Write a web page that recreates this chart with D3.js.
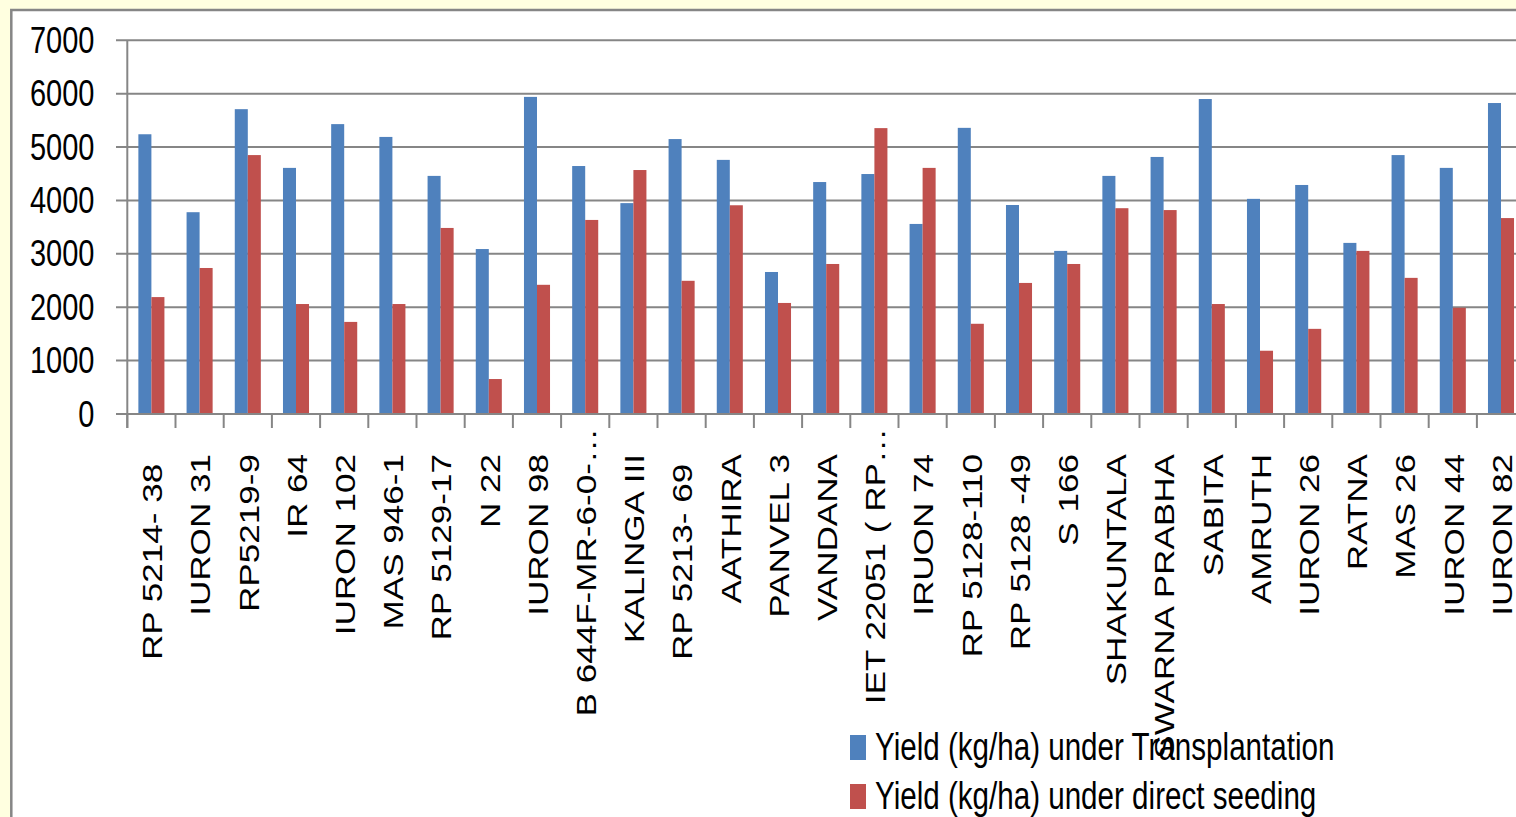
<!DOCTYPE html>
<html>
<head>
<meta charset="utf-8">
<script src="https://cdn.jsdelivr.net/npm/d3@7"></script>
<style>
  html, body { margin: 0; padding: 0; background: #ffffe0; }
  svg { display: block; }
  text { font-family: "Liberation Sans", Arial, sans-serif; fill: #000; }
</style>
</head>
<body>
<svg id="chart" width="1516" height="817"></svg>
<script>
// Rice varieties and their yields (kg/ha)
const categories = [
  "RP 5214- 38 ", "IURON 31", "RP5219-9", "IR 64", "IURON 102", "MAS 946-1",
  "RP 5129-17", "N 22", "IURON 98", "B 644F-MR-6-0-\u2026", "KALINGA III",
  "RP 5213- 69 ", "AATHIRA", "PANVEL 3", "VANDANA", "IET 22051 ( RP\u2026",
  "IRUON 74", "RP 5128-110", "RP 5128 -49", "S 166", "SHAKUNTALA",
  "SWARNA PRABHA", "SABITA", "AMRUTH", "IURON 26", "RATNA", "MAS 26",
  "IURON 44", "IURON 82"
];
const transplantation = [
  5240, 3780, 5710, 4610, 5430, 5190, 4460, 3090, 5940, 4645, 3950,
  5150, 4760, 2660, 4345, 4495, 3560, 5360, 3915, 3055, 4460, 4815,
  5900, 4030, 4290, 3205, 4850, 4610, 5825
];
const directSeeding = [
  2190, 2735, 4850, 2060, 1725, 2060, 3485, 655, 2420, 3635, 4570,
  2495, 3910, 2080, 2810, 5355, 4610, 1690, 2455, 2810, 3855, 3820,
  2060, 1185, 1595, 3055, 2550, 1990, 3670
];
const seriesNames = [
  "Yield (kg/ha) under Transplantation",
  "Yield (kg/ha) under direct seeding"
];
const seriesColors = ["#4f81bd", "#c0504d"];
const yTicks = [0, 1000, 2000, 3000, 4000, 5000, 6000, 7000];

const svg = d3.select("#chart");
const stretch = 1.3;        // vertical stretch applied to all lettering
const axisColor = "#868686";

// chart area with border
svg.append("rect")
  .attr("x", 11.3).attr("y", 10)
  .attr("width", 1600).attr("height", 900)
  .attr("fill", "#ffffff")
  .attr("stroke", axisColor).attr("stroke-width", 2.5);

const plotLeft = 127.3, step = 48.2;
const x = d3.scaleBand()
  .domain(categories)
  .range([plotLeft, plotLeft + categories.length * step])
  .paddingInner(0).paddingOuter(0);
const x1 = d3.scaleBand()
  .domain(seriesNames)
  .range([0, x.bandwidth()])
  .paddingInner(0).paddingOuter(0.85);
const y = d3.scaleLinear().domain([0, 7000]).range([414, 40.3]);

// horizontal gridlines (with the left tick stubs)
svg.append("g").selectAll("line")
  .data(yTicks)
  .join("line")
  .attr("x1", 116).attr("x2", 1516)
  .attr("y1", d => y(d)).attr("y2", d => y(d))
  .attr("stroke", axisColor).attr("stroke-width", 2);

// y tick labels
svg.append("g").selectAll("text")
  .data(yTicks)
  .join("text")
  .attr("transform", d => `translate(94.5,${y(d) - 1}) scale(1,${stretch})`)
  .attr("text-anchor", "end")
  .attr("dy", "0.36em")
  .attr("font-size", 29)
  .text(d => d);

// bars
const rows = categories.map((c, i) => ({ cat: c, values: [transplantation[i], directSeeding[i]] }));
const groups = svg.append("g").selectAll("g")
  .data(rows)
  .join("g")
  .attr("transform", d => `translate(${x(d.cat)},0)`);
groups.selectAll("rect")
  .data(d => d.values.map((v, k) => ({ key: seriesNames[k], v, k })))
  .join("rect")
  .attr("x", d => x1(d.key))
  .attr("width", x1.bandwidth())
  .attr("y", d => y(d.v))
  .attr("height", d => y(0) - y(d.v))
  .attr("fill", d => seriesColors[d.k]);

// axes lines
svg.append("line")
  .attr("x1", plotLeft).attr("x2", plotLeft)
  .attr("y1", y(7000)).attr("y2", 428)
  .attr("stroke", axisColor).attr("stroke-width", 2);
svg.append("line")
  .attr("x1", 116).attr("x2", 1516)
  .attr("y1", y(0)).attr("y2", y(0))
  .attr("stroke", axisColor).attr("stroke-width", 2);

// category tick marks at band boundaries
const boundaries = categories.map(c => x(c)).concat([x.range()[1]]);
svg.append("g").selectAll("line")
  .data(boundaries)
  .join("line")
  .attr("x1", d => d).attr("x2", d => d)
  .attr("y1", y(0)).attr("y2", 428)
  .attr("stroke", axisColor).attr("stroke-width", 2);

// rotated category labels
svg.append("g").selectAll("text")
  .data(categories)
  .join("text")
  .attr("transform", d => {
    const top = d.endsWith("\u2026") ? 428 : 454;
    return `translate(${x(d) + x.bandwidth() / 2 + 1},${top}) scale(1,${stretch}) rotate(-90)`;
  })
  .attr("text-anchor", "end")
  .attr("dy", "0.36em")
  .attr("font-size", 27)
  .style("white-space", "pre")
  .text(d => d);

// legend
const legend = svg.append("g").selectAll("g")
  .data(seriesNames)
  .join("g")
  .attr("transform", (d, i) => `translate(850,${760 + i * 49})`);
legend.append("rect")
  .attr("x", 0).attr("y", -25)
  .attr("width", 16).attr("height", 25)
  .attr("fill", (d, i) => seriesColors[i]);
legend.append("text")
  .attr("transform", `translate(25,0) scale(1,${stretch})`)
  .attr("font-size", 29.6)
  .text(d => d);
</script>
</body>
</html>
